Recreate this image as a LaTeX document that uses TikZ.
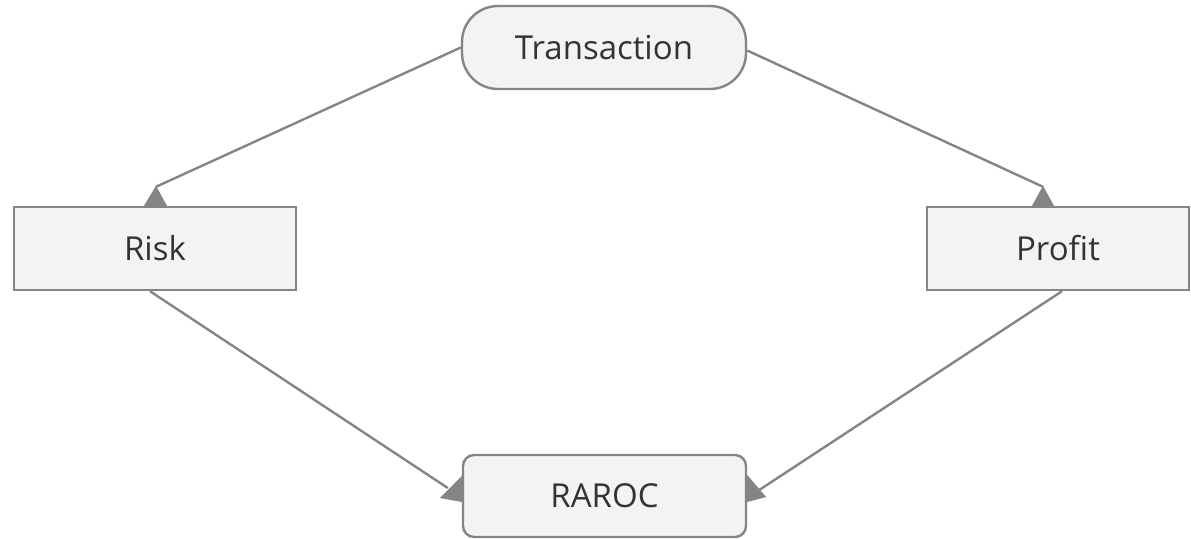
\documentclass[tikz,border=0pt]{standalone}
\usepackage{fontspec}
\setmainfont{Open Sans}
\usetikzlibrary{calc}
\definecolor{boxfill}{HTML}{F3F3F3}
\definecolor{edgegrey}{HTML}{858585}
\definecolor{textgrey}{HTML}{333333}
\begin{document}
\begin{tikzpicture}[x=1pt,y=-1pt,
  box/.style={draw=edgegrey,line width=2.4pt,fill=boxfill,text=textgrey,
    font=\fontsize{33}{39}\selectfont,inner sep=0pt,anchor=center},
  link/.style={draw=edgegrey,line width=2.4pt},
  head/.style={fill=edgegrey,draw=none}]
\useasboundingbox (0,0) rectangle (1191,538);

\node[box,minimum width=284pt,minimum height=83pt,rounded corners=36pt] (trans) at (604,47.5) {Transaction};
\node[box,minimum width=282pt,minimum height=83pt] (risk) at (155,248.5) {Risk};
\node[box,minimum width=262pt,minimum height=83pt] (profit) at (1058,248.5) {Profit};
\node[box,minimum width=283pt,minimum height=82pt,rounded corners=11pt] (raroc) at (604.5,496) {RAROC};

% end points of the connectors
\coordinate (tipR) at ($(risk.north)+(1,-19)$);
\coordinate (tipP) at ($(profit.north)+(-15,-19)$);
\coordinate (tipL) at ($(raroc.west)+(-14,-8)$);
\coordinate (tipE) at ($(raroc.east)+(12,-6)$);

% connectors
\draw[link] (trans.west) -- (tipR);
\draw[link] ($(trans.east)+(0,3)$) -- (tipP);
\draw[link] ($(risk.south)+(-5,0)$) -- (tipL);
\draw[link] ($(profit.south)+(4,0)$) -- (tipE);

% heads
\fill[head] ($(risk.north)+(-11,0)$) -- ($(risk.north)+(1,-20)$) -- ($(risk.north)+(12,0)$) -- cycle;
\fill[head] ($(profit.north)+(-26,0)$) -- ($(profit.north)+(-15,-20)$) -- ($(profit.north)+(-4,0)$) -- cycle;
\fill[head] ($(raroc.west)+(0,-20)$) -- ($(raroc.west)+(-22,2)$) -- ($(raroc.west)+(0,6)$) -- cycle;
\fill[head] ($(raroc.east)+(0,-21)$) -- ($(raroc.east)+(19,1)$) -- ($(raroc.east)+(0,6)$) -- cycle;
\end{tikzpicture}
\end{document}
